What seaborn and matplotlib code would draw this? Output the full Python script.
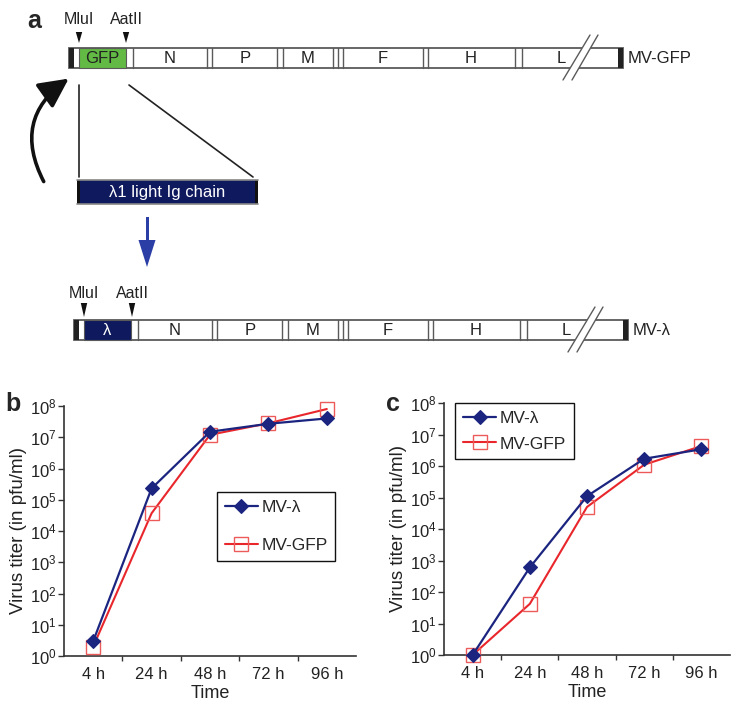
import numpy as np
import pandas as pd
import matplotlib
matplotlib.use("Agg")
import matplotlib.pyplot as plt
import seaborn as sns
from matplotlib.patches import Rectangle, Polygon, FancyArrowPatch
from matplotlib.ticker import FixedLocator, NullFormatter, LogFormatterSciNotation

# ---------------- data ----------------
times = ["4 h", "24 h", "48 h", "72 h", "96 h"]
series_names = ["MV-λ", "MV-GFP"]
b_lambda = [3.0, 2.3e5, 1.5e7, 2.7e7, 4.0e7]
b_gfp = [2.0, 3.7e4, 1.2e7, 2.8e7, 8.0e7]
c_lambda = [1.0, 6.0e2, 1.1e5, 1.7e6, 3.4e6]
c_gfp = [1.0, 42.0, 5.0e4, 1.1e6, 4.3e6]
genes = ["N", "P", "M", "F", "H", "L"]
y_decades = [1e0, 1e1, 1e2, 1e3, 1e4, 1e5, 1e6, 1e7, 1e8]

# ---------------- style ----------------
sns.set_style("ticks")
plt.rcParams["font.family"] = ["Liberation Sans", "DejaVu Sans"]
plt.rcParams["mathtext.fontset"] = "custom"
plt.rcParams["mathtext.rm"] = "Liberation Sans"
plt.rcParams["mathtext.it"] = "Liberation Sans:italic"

NAVY = "#1b2580"
RED = "#e8262b"
RED_M = "#ec5a5a"
GRAY = "#5a5a5a"
GREEN = "#62b944"
DNAVY = "#0f1a5e"
BLUE_ARROW = "#2a3ea6"

W, H = 733, 706
fig = plt.figure(figsize=(W / 100, H / 100), dpi=100)

# ---------------- panel a (schematic) ----------------
ax0 = fig.add_axes([0, 0, 1, 1])
ax0.set_xlim(0, W)
ax0.set_ylim(H, 0)
ax0.axis("off")


def genome(dx, y0, y1, insert_color, insert_text, right_label):
    h = y1 - y0
    left, right = 69 + dx, 623 + dx
    ax0.add_patch(Rectangle((left, y0), right - left, h, fc="white", ec=GRAY, lw=1.3))
    ax0.add_patch(Rectangle((left, y0), 5, h, fc="#222222", ec="none"))
    ax0.add_patch(Rectangle((79 + dx, y0), 47, h, fc=insert_color, ec=GRAY, lw=0.8))
    ax0.text(102.5 + dx, (y0 + y1) / 2 + 0.5, insert_text, ha="center", va="center",
             fontsize=12, color="#222222" if insert_color == GREEN else "white")
    for xs in [(133,), (207, 212), (277, 283), (333, 338, 343), (423, 428), (515, 522)]:
        for x in xs:
            ax0.plot([x + dx, x + dx], [y0, y1], color=GRAY, lw=1.0)
    centers = [170, 245, 308, 383, 471, 561]
    for g, c in zip(genes, centers):
        ax0.text(c + dx, (y0 + y1) / 2 + 0.5, g, ha="center", va="center", fontsize=12,
                 color="#222222")
    # break mark
    ytop, ybot = y0 - 13, y1 + 12
    def xl(xb, slope_x, y):
        return xb + (ybot - y) * slope_x / (ybot - ytop)
    poly = [(xl(563 + dx, 27, y1 + 1), y1 + 1), (xl(572 + dx, 26, y1 + 1), y1 + 1),
            (xl(572 + dx, 26, y0 - 1), y0 - 1), (xl(563 + dx, 27, y0 - 1), y0 - 1)]
    ax0.add_patch(Polygon(poly, closed=True, fc="white", ec="none", zorder=3))
    ax0.plot([563 + dx, 590 + dx], [ybot, ytop], color=GRAY, lw=1.0, zorder=4)
    ax0.plot([572 + dx, 598 + dx], [ybot, ytop], color=GRAY, lw=1.0, zorder=4)
    ax0.add_patch(Rectangle((right - 5, y0), 5, h, fc="#222222", ec="none"))
    ax0.text(right + 5, (y0 + y1) / 2 + 0.5, right_label, ha="left", va="center",
             fontsize=12, color="#222222")


def sites(x1, x2, ylab, ytri_top, ytri_bot):
    for x, lab in [(x1, "MluI"), (x2, "AatII")]:
        ax0.text(x, ylab, lab, ha="center", va="center", fontsize=11.5, color="#222222")
        ax0.add_patch(Polygon([(x - 3.2, ytri_top), (x + 3.2, ytri_top), (x, ytri_bot)],
                              closed=True, fc="#111111", ec="none"))


ax0.text(27, 28, "a", fontsize=18, fontweight="bold", ha="left", va="baseline")
sites(79, 126, 20, 32, 43)
genome(0, 48, 68, GREEN, "GFP", "MV-GFP")

# lines to the lambda insert
ax0.plot([79, 79], [85, 177], color="#222222", lw=1.2)
ax0.plot([129, 253], [85, 177], color="#222222", lw=1.2)
ax0.add_patch(Rectangle((77, 180), 181, 24, fc=DNAVY, ec="none"))
ax0.plot([77, 258], [180, 180], color="#888888", lw=1.2)
ax0.plot([77, 258], [204, 204], color="#888888", lw=1.2)
ax0.add_patch(Rectangle((77, 180), 3, 24, fc="#111111", ec="none"))
ax0.add_patch(Rectangle((255, 180), 3, 24, fc="#111111", ec="none"))
ax0.text(167, 192.5, "λ1 light Ig chain", ha="center", va="center", fontsize=12, color="white")

# curved black arrow
ax0.add_patch(FancyArrowPatch(posA=(45, 184), posB=(71, 77), connectionstyle="arc3,rad=-0.45",
                              arrowstyle="-|>,head_length=0.9,head_width=0.45",
                              mutation_scale=20, lw=2.6, color="#111111"))

# blue down arrow
ax0.add_patch(Rectangle((145.5, 217), 3, 24, fc=BLUE_ARROW, ec="none"))
ax0.add_patch(Polygon([(138.5, 240), (155.5, 240), (147, 267)], closed=True,
                      fc=BLUE_ARROW, ec="none"))

sites(84, 132, 293, 303, 317)
genome(5, 320, 340, DNAVY, "λ", "MV-λ")

# ---------------- panels b & c ----------------
def panel(rect, lam, gfp, letter, letter_xy, leg_anchor, leg_spacing):
    ax = fig.add_axes(rect)
    df = pd.DataFrame({"t": np.arange(len(times)), series_names[0]: lam, series_names[1]: gfp})
    sns.lineplot(data=df, x="t", y=series_names[1], ax=ax, color=RED, lw=1.5, marker="s",
                 markersize=9.5, markerfacecolor="none", markeredgecolor=RED_M,
                 markeredgewidth=1.0, label=series_names[1], clip_on=False, zorder=3)
    sns.lineplot(data=df, x="t", y=series_names[0], ax=ax, color=NAVY, lw=1.6, marker="D",
                 markersize=7, markerfacecolor=NAVY, markeredgecolor=NAVY,
                 markeredgewidth=0.8, label=series_names[0], clip_on=False, zorder=4)
    ax.set_yscale("log")
    ax.set_ylim(1, 1e8)
    ax.set_xlim(-0.5, len(times) - 0.5)
    ax.yaxis.set_major_locator(FixedLocator(y_decades))
    ax.yaxis.set_major_formatter(LogFormatterSciNotation())
    ax.yaxis.set_minor_locator(FixedLocator([]))
    ax.set_xticks(np.arange(len(times)))
    ax.set_xticklabels(times)
    ax.xaxis.set_minor_locator(FixedLocator(np.arange(0.5, len(times) - 1, 1.0)))
    ax.xaxis.set_minor_formatter(NullFormatter())
    ax.tick_params(axis="x", which="major", length=0, pad=8, labelsize=12, colors="#222222")
    ax.tick_params(axis="x", which="minor", length=3.5, width=1, direction="out", color="#333333")
    ax.tick_params(axis="y", which="major", length=4, width=1, direction="out", pad=1.5,
                   labelsize=12, color="#333333", labelcolor="#222222")
    for s in ["top", "right"]:
        ax.spines[s].set_visible(False)
    for s in ["left", "bottom"]:
        ax.spines[s].set_linewidth(1.2)
        ax.spines[s].set_color("#333333")
    ax.set_xlabel("Time", fontsize=13, labelpad=2, color="#222222")
    ax.set_ylabel("Virus titer (in pfu/ml)", fontsize=13.5, labelpad=2, color="#222222")
    handles, labels = ax.get_legend_handles_labels()
    order = [labels.index(series_names[0]), labels.index(series_names[1])]
    leg = ax.legend([handles[i] for i in order], [labels[i] for i in order],
                    loc="upper left", bbox_to_anchor=leg_anchor, fontsize=12.5,
                    frameon=True, fancybox=False, edgecolor="#111111", framealpha=1,
                    handlelength=1.9, handletextpad=0.2, labelspacing=leg_spacing,
                    borderpad=0.45, borderaxespad=0)
    leg.get_frame().set_linewidth(1.0)
    leg.set_zorder(10)
    fig.text(letter_xy[0] / W, 1 - letter_xy[1] / H, letter, fontsize=18, fontweight="bold",
             ha="left", va="baseline")
    return ax


panel([64 / W, 1 - 656 / H, 292 / W, 250 / H], b_lambda, b_gfp, "b", (5, 411),
      (0.524, 0.656), 1.3)
panel([444 / W, 1 - 655 / H, 286 / W, 252 / H], c_lambda, c_gfp, "c", (386, 411),
      (0.04, 1.0), 0.6)

fig.savefig("out.png", dpi=100)
